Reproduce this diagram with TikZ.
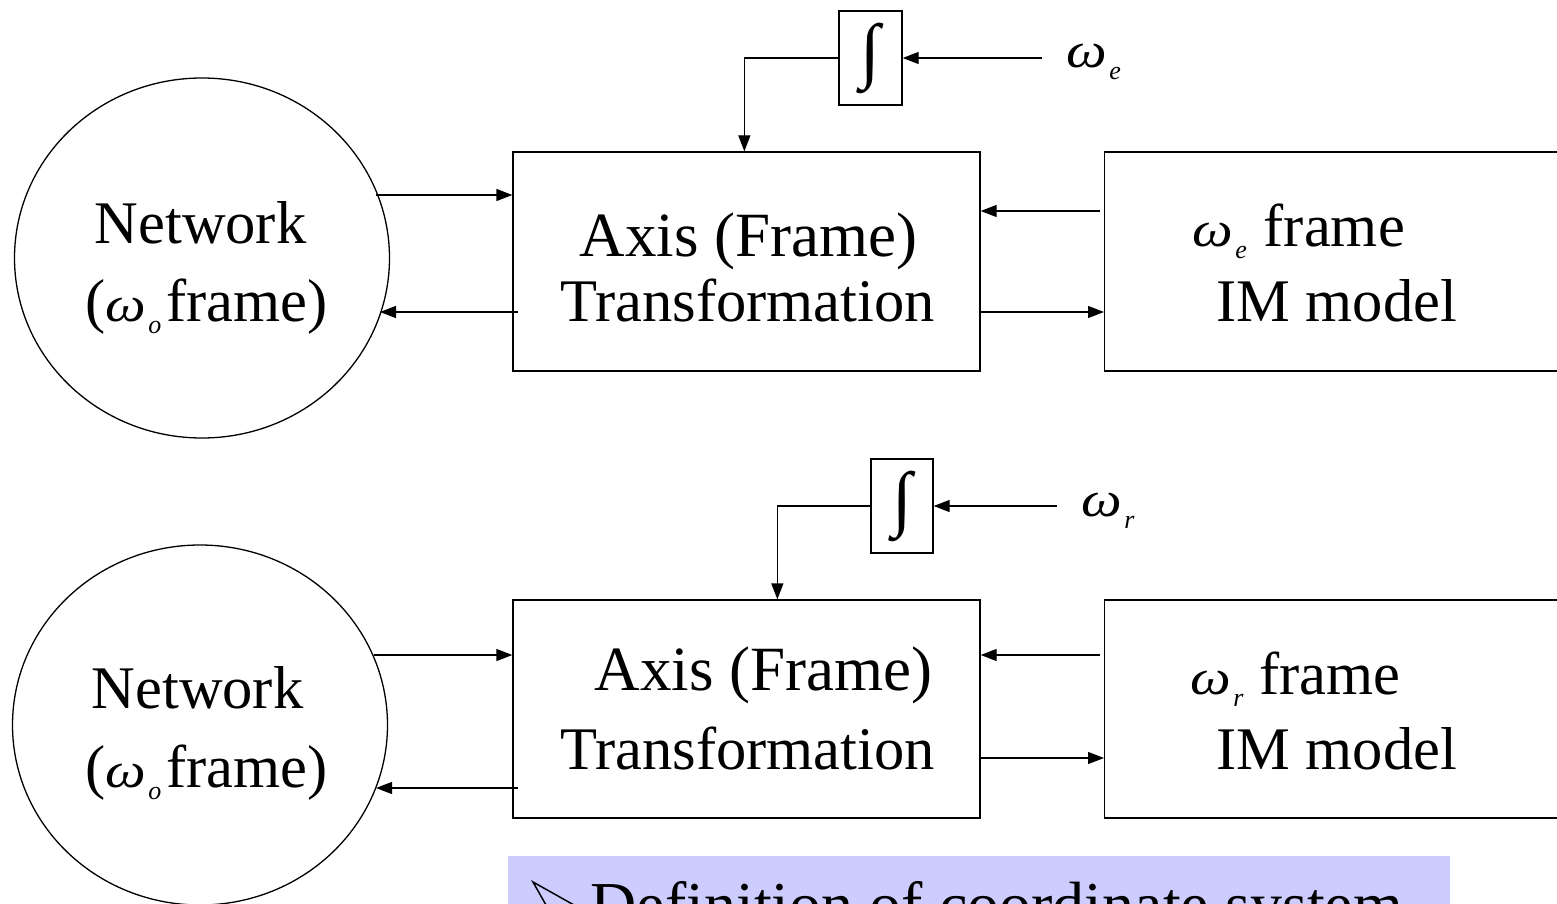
\documentclass[tikz,border=0pt]{standalone}
\usepackage{fontspec}
\setmainfont{Liberation Serif}
\usetikzlibrary{arrows.meta,shapes.geometric,calc}
\definecolor{notebg}{RGB}{204,204,255}
\newcommand{\om}[1]{{\fontsize{50}{54}\selectfont\itshape\scalebox{1.15}[1]{ω}}\hspace{2pt}\raisebox{-12pt}{\fontsize{26}{28}\selectfont\itshape #1}}
\begin{document}
\begin{tikzpicture}[x=1pt,y=-1pt, line width=1.3pt,
  conn/.style={-{Triangle[length=16pt,width=12pt]}},
  blk/.style={draw, rectangle, inner sep=0pt, line width=1.3pt},
  net/.style={draw, ellipse, inner sep=0pt, line width=1.3pt},
  big/.style={font=\fontsize{60.5}{66}\selectfont, inner sep=0pt, anchor=base west},
  axis/.style={font=\fontsize{63}{68}\selectfont, inner sep=0pt, anchor=base west},
  lbl/.style={inner sep=0pt, anchor=base west}
]
\useasboundingbox (0,0) rectangle (1557,904);
\clip (0,0) rectangle (1557,904);

% ---------- top system ----------
\node[net, minimum width=375pt, minimum height=360pt] (c1) at (202,258) {};
\node[blk, minimum width=467pt, minimum height=219pt] (tr1) at (746.5,261.5) {};
\node[blk, minimum width=480pt, minimum height=219pt, anchor=west] (im1) at (1104,261.5) {};
\node[blk, minimum width=63pt, minimum height=94pt] (int1) at (870.5,58) {};
\node[inner sep=0pt, font=\fontsize{72}{74}\selectfont] (s1) at (int1.center) {∫};

\coordinate (we) at (1042,58);
\node[lbl] (lwe) at (1066,68) {\om{e}};
\draw[conn] (we) -- (int1.east);
\draw[conn] (int1.west) -| ($(tr1.north west)+(232,0)$);

\coordinate (c1a) at (376,195);
\coordinate (c1b) at (380,312);
\draw[conn] (c1a) -- (c1a -| tr1.west);
\draw[conn] ($(c1b -| tr1.west)+(6,0)$) -- (c1b);
\coordinate (m1a) at (1100,211);
\coordinate (m1b) at (980,312);
\draw[conn] (m1a) -- (m1a -| tr1.east);
\draw[conn] (m1b) -- (m1b -| im1.west);

\node[big] (n1a) at (94,243) {Network};
\node[big] (n1b) at (85,321) {(\om{o}\hspace{5pt}frame)};
\node[axis] (t1a) at (579,256) {Axis (Frame)};
\node[big] (t1b) at (560,321) {Transformation};
\node[big] (f1a) at (1192,246) {\om{e}\hspace{17pt}frame};
\node[big] (f1b) at (1216,321) {IM model};

% ---------- bottom system ----------
\node[net, minimum width=375pt, minimum height=360pt] (c2) at (200,725) {};
\node[blk, minimum width=467pt, minimum height=218pt] (tr2) at (746.5,709) {};
\node[blk, minimum width=480pt, minimum height=218pt, anchor=west] (im2) at (1104,709) {};
\node[blk, minimum width=62pt, minimum height=94pt] (int2) at (902,506) {};
\node[inner sep=0pt, font=\fontsize{72}{74}\selectfont] (s2) at (int2.center) {∫};

\coordinate (wr) at (1057,506);
\node[lbl] (lwr) at (1081,516) {\om{r}};
\draw[conn] (wr) -- (int2.east);
\draw[conn] (int2.west) -| ($(tr2.north west)+(265,0)$);

\coordinate (c2a) at (374,655);
\coordinate (c2b) at (376,788);
\draw[conn] (c2a) -- (c2a -| tr2.west);
\draw[conn] ($(c2b -| tr2.west)+(6,0)$) -- (c2b);
\coordinate (m2a) at (1100,655);
\coordinate (m2b) at (980,758);
\draw[conn] (m2a) -- (m2a -| tr2.east);
\draw[conn] (m2b) -- (m2b -| im2.west);

\node[big] (n2a) at (91,708) {Network};
\node[big] (n2b) at (85,787) {(\om{o}\hspace{5pt}frame)};
\node[axis] (t2a) at (594,690) {Axis (Frame)};
\node[big] (t2b) at (560,769) {Transformation};
\node[big] (f2a) at (1190,694) {\om{r}\hspace{16pt}frame};
\node[big] (f2b) at (1216,769) {IM model};

% ---------- note ----------
\node[fill=notebg, inner sep=0pt, minimum width=942pt, minimum height=80pt, anchor=north west] (note) at (507,855) {};
\draw[line width=1.5pt, line join=miter] (533,882) -- (574,905) -- (546,905) -- cycle;
\node[big, font=\fontsize{64}{70}\selectfont] (notetxt) at (590,926) {Definition of coordinate system};
\end{tikzpicture}
\end{document}
